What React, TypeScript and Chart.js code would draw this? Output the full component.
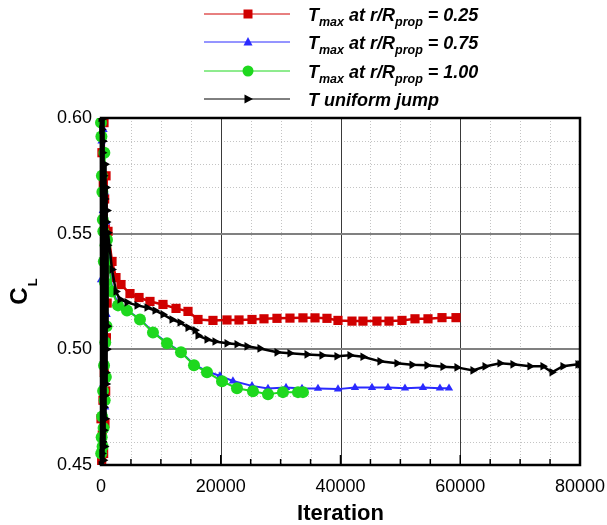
import React, { useEffect, useRef } from 'react';
import { Chart, registerables } from 'chart.js';

Chart.register(...registerables);

const FONT = '"Liberation Sans", Arial, Helvetica, sans-serif';

// Axis ticks
const xTicks = [0, 20000, 40000, 60000, 80000];
const yTicks = [0.45, 0.5, 0.55, 0.6];
const xMinorStep = 5000;
const yMinorStep = 0.01;

// T max at r/Rprop = 0.25
const redIter = [0, 50, 110, 160, 220, 270, 330, 380, 440, 500, 550, 610, 660, 720, 780, 840, 900, 960, 1030,
  1170, 1840, 2500, 3340, 4840, 6350, 8180, 10350, 12530, 14530, 16200, 18700,
  21040, 23050, 25220, 27220, 29390, 31560, 33730, 35740, 37740, 39580,
  41920, 43750, 46090, 48100, 50270, 52440, 54610, 56950, 59290];
const redCL = [0.47, 0.615, 0.452, 0.585, 0.463, 0.605, 0.478, 0.572, 0.455, 0.598, 0.49, 0.565, 0.468, 0.552, 0.482, 0.575, 0.505, 0.548, 0.52,
  0.551, 0.538, 0.531, 0.528, 0.5241, 0.5224, 0.5207, 0.5194, 0.5177, 0.5164, 0.5129, 0.5125,
  0.5127, 0.5127, 0.5129, 0.5132, 0.5134, 0.5135, 0.5136, 0.5136, 0.5134, 0.5125,
  0.5122, 0.5122, 0.5122, 0.5122, 0.5125, 0.5132, 0.5132, 0.5137, 0.5137];

// T max at r/Rprop = 0.75
const blueIter = [0, 45, 95, 150, 200, 255, 310, 365, 420, 470, 530, 585, 640, 700, 760, 820, 880, 950, 1000,
  1840, 2840, 4340, 6510, 8680, 11020, 13360, 15530, 17700,
  19870, 22040, 25220, 27890, 30900, 33570, 36240, 39580,
  42420, 45260, 47930, 50770, 53770, 56610, 58120];
const blueCL = [0.53, 0.455, 0.59, 0.47, 0.575, 0.448, 0.56, 0.485, 0.595, 0.465, 0.545, 0.495, 0.568, 0.475, 0.54, 0.505, 0.555, 0.515, 0.548,
  0.526, 0.5195, 0.517, 0.513, 0.5075, 0.5028, 0.4988, 0.4935, 0.4905,
  0.4885, 0.4863, 0.4842, 0.4831, 0.4835, 0.4831, 0.4831, 0.4828,
  0.4835, 0.4835, 0.4835, 0.4832, 0.4835, 0.4832, 0.4832];

// T max at r/Rprop = 1.00
const greenIter = [0, 35, 70, 110, 150, 190, 230, 270, 310, 350, 390, 430, 470, 510, 560, 610, 660, 710, 760, 810, 860, 920,
  1000, 1840, 2840, 4340, 6510, 8680, 11020, 13360, 15530, 17700,
  20210, 22710, 25380, 27890, 30390, 32900, 33730];
const greenCL = [0.598, 0.455, 0.592, 0.462, 0.575, 0.471, 0.568, 0.458, 0.556, 0.482, 0.551, 0.466, 0.538, 0.493, 0.585, 0.478, 0.529, 0.503, 0.545, 0.488, 0.535, 0.51,
  0.5474, 0.525, 0.519, 0.5168, 0.5129, 0.5073, 0.5026, 0.4987, 0.4931, 0.4901,
  0.4862, 0.4832, 0.4819, 0.4806, 0.4815, 0.4815, 0.4815];

// T uniform jump
const blackIter = [0, 25, 55, 85, 115, 145, 175, 210, 240, 270, 300, 335, 365, 395, 430, 460, 490, 525, 555, 590,
  620, 655, 690, 725, 760, 800, 840, 880, 920, 960, 1000, 1050, 1100,
  1170, 1840, 2500, 3170, 4340, 6010, 7680, 9020, 10350, 11860,
  13190, 14530, 15700, 16200, 17700, 19040, 21040, 22710, 24380, 26550,
  29390, 31560, 34400, 36900, 39410, 41580, 43750, 46590, 49430, 51940,
  54440, 57110, 59450, 62120, 64130, 66630, 68800, 71640, 73810, 75320,
  77150, 79660, 80000];
const blackCL = [0.6, 0.45, 0.62, 0.44, 0.595, 0.455, 0.61, 0.46, 0.585, 0.447, 0.59, 0.47, 0.58, 0.452, 0.575, 0.465, 0.6, 0.475, 0.57, 0.458,
  0.565, 0.48, 0.58, 0.47, 0.56, 0.49, 0.57, 0.485, 0.555, 0.5, 0.56, 0.51, 0.545,
  0.5504, 0.5345, 0.525, 0.5216, 0.5203, 0.519, 0.5181, 0.5168, 0.5151, 0.5129,
  0.5116, 0.5094, 0.5082, 0.506, 0.5043, 0.5034, 0.5026, 0.5022, 0.5013, 0.5004,
  0.4987, 0.4983, 0.4978, 0.4974, 0.497, 0.4974, 0.4968, 0.4948, 0.494, 0.4933,
  0.4931, 0.4925, 0.4922, 0.4909, 0.4926, 0.494, 0.4935, 0.4927, 0.4927, 0.4901,
  0.4927, 0.4935, 0.4935];

const RED = '#d00000';
const BLUE = '#2a2aff';
const GREEN = '#1ed81e';
const BLACK = '#000000';

type Part = [string, boolean];
const legendItems: { color: string; marker: string; parts: Part[] }[] = [
  { color: RED, marker: 'square', parts: [['T', false], ['max', true], [' at r/R', false], ['prop', true], [' = 0.25', false]] },
  { color: BLUE, marker: 'triangle', parts: [['T', false], ['max', true], [' at r/R', false], ['prop', true], [' = 0.75', false]] },
  { color: GREEN, marker: 'circle', parts: [['T', false], ['max', true], [' at r/R', false], ['prop', true], [' = 1.00', false]] },
  { color: BLACK, marker: 'right', parts: [['T uniform jump', false]] },
];

function pts(xs: number[], ys: number[]) {
  return xs.map((x, i) => ({ x, y: ys[i] }));
}

function drawMarker(ctx: CanvasRenderingContext2D, kind: string, x: number, y: number, color: string) {
  ctx.fillStyle = color;
  ctx.beginPath();
  if (kind === 'square') {
    ctx.rect(x - 4.5, y - 4.5, 9, 9);
  } else if (kind === 'triangle') {
    ctx.moveTo(x, y - 5);
    ctx.lineTo(x + 4.5, y + 3.5);
    ctx.lineTo(x - 4.5, y + 3.5);
    ctx.closePath();
  } else if (kind === 'circle') {
    ctx.arc(x, y, 5.5, 0, Math.PI * 2);
  } else {
    ctx.moveTo(x + 5, y);
    ctx.lineTo(x - 3.5, y - 4.5);
    ctx.lineTo(x - 3.5, y + 4.5);
    ctx.closePath();
  }
  ctx.fill();
}

const overlay = {
  id: 'overlay',
  beforeDatasetsDraw(chart: any) {
    const { ctx, chartArea: a, scales } = chart;
    const xs = scales.x, ys = scales.y;
    ctx.save();
    // minor dotted grid
    ctx.strokeStyle = '#c4c4c4';
    ctx.lineWidth = 1;
    ctx.setLineDash([1, 2]);
    for (let i = 1; i < 16; i++) {
      if (i % 4 === 0) continue;
      const px = Math.round(xs.getPixelForValue(i * xMinorStep)) + 0.5;
      ctx.beginPath(); ctx.moveTo(px, a.top); ctx.lineTo(px, a.bottom); ctx.stroke();
    }
    for (let i = 1; i < 15; i++) {
      if (i % 5 === 0) continue;
      const py = Math.round(ys.getPixelForValue(yTicks[0] + i * yMinorStep)) + 0.5;
      ctx.beginPath(); ctx.moveTo(a.left, py); ctx.lineTo(a.right, py); ctx.stroke();
    }
    ctx.setLineDash([]);
    // major grid
    ctx.strokeStyle = '#3a3a3a';
    ctx.lineWidth = 1;
    xTicks.slice(1, -1).forEach((v) => {
      const px = Math.round(xs.getPixelForValue(v)) + 0.5;
      ctx.beginPath(); ctx.moveTo(px, a.top); ctx.lineTo(px, a.bottom); ctx.stroke();
    });
    ctx.strokeStyle = '#808080';
    ctx.lineWidth = 2;
    yTicks.slice(1, -1).forEach((v) => {
      const py = Math.round(ys.getPixelForValue(v));
      ctx.beginPath(); ctx.moveTo(a.left, py); ctx.lineTo(a.right, py); ctx.stroke();
    });
    ctx.restore();
  },
  afterDatasetsDraw(chart: any) {
    const { ctx, chartArea: a, scales } = chart;
    const xs = scales.x, ys = scales.y;
    ctx.save();
    ctx.strokeStyle = '#000';
    // tick marks
    ctx.lineWidth = 1.5;
    for (let i = 0; i <= 16; i++) {
      const px = xs.getPixelForValue(i * xMinorStep);
      const len = i % 4 === 0 ? 10 : 6;
      ctx.beginPath(); ctx.moveTo(px, a.bottom); ctx.lineTo(px, a.bottom - len); ctx.stroke();
    }
    for (let i = 0; i <= 15; i++) {
      const py = ys.getPixelForValue(yTicks[0] + i * yMinorStep);
      const len = i % 5 === 0 ? 10 : 6;
      ctx.beginPath(); ctx.moveTo(a.left, py); ctx.lineTo(a.left + len, py); ctx.stroke();
    }
    // frame
    ctx.lineWidth = 2.5;
    ctx.strokeRect(a.left, a.top, a.right - a.left, a.bottom - a.top);
    ctx.restore();
  },
  afterDraw(chart: any) {
    const { ctx, chartArea: a } = chart;
    ctx.save();
    ctx.fillStyle = '#000';
    // x title
    ctx.font = `bold 22px ${FONT}`;
    ctx.textAlign = 'center';
    ctx.textBaseline = 'alphabetic';
    ctx.fillText('Iteration', (a.left + a.right) / 2, 520);
    // y title C_L
    ctx.save();
    ctx.translate(27, (a.top + a.bottom) / 2);
    ctx.rotate(-Math.PI / 2);
    ctx.textAlign = 'left';
    ctx.font = `bold 24px ${FONT}`;
    const wC = ctx.measureText('C').width;
    ctx.font = `bold 13px ${FONT}`;
    const wL = ctx.measureText('L').width;
    const x0 = -(wC + 1 + wL) / 2;
    ctx.font = `bold 24px ${FONT}`;
    ctx.fillText('C', x0, 0);
    ctx.font = `bold 13px ${FONT}`;
    ctx.fillText('L', x0 + wC + 1, 10);
    ctx.restore();
    // legend
    const rowY = [14, 42, 71, 99];
    legendItems.forEach((it, i) => {
      const y = rowY[i];
      ctx.strokeStyle = it.color;
      ctx.lineWidth = 1;
      ctx.beginPath(); ctx.moveTo(204, y); ctx.lineTo(290, y); ctx.stroke();
      drawMarker(ctx, it.marker, 248, y, it.color);
      let cx = 308;
      ctx.fillStyle = '#000';
      ctx.textAlign = 'left';
      it.parts.forEach(([t, sub]) => {
        ctx.font = `italic bold ${sub ? 12.5 : 18}px ${FONT}`;
        ctx.fillText(t, cx, sub ? y + 11.5 : y + 7);
        cx += ctx.measureText(t).width;
      });
    });
    ctx.restore();
  },
};

export default function App() {
  const ref = useRef<HTMLCanvasElement>(null);
  useEffect(() => {
    document.body.style.margin = '0';
    const clip = { left: 8, top: 0, right: 0, bottom: 0 };
    const chart = new Chart(ref.current as HTMLCanvasElement, {
      type: 'line',
      data: {
        datasets: [
          {
            label: 'T uniform jump', data: pts(blackIter, blackCL), borderColor: BLACK, backgroundColor: BLACK,
            borderWidth: 2.5, pointStyle: 'triangle', pointRotation: 90, pointRadius: 5, pointBorderWidth: 0, clip,
          },
          {
            label: 'Tmax at r/Rprop = 1.00', data: pts(greenIter, greenCL), borderColor: GREEN, backgroundColor: GREEN,
            borderWidth: 2, pointStyle: 'circle', pointRadius: 6, pointBorderWidth: 0, clip,
          },
          {
            label: 'Tmax at r/Rprop = 0.75', data: pts(blueIter, blueCL), borderColor: BLUE, backgroundColor: BLUE,
            borderWidth: 2, pointStyle: 'triangle', pointRadius: 4.8, pointBorderWidth: 0, clip,
          },
          {
            label: 'Tmax at r/Rprop = 0.25', data: pts(redIter, redCL), borderColor: RED, backgroundColor: RED,
            borderWidth: 2.5, pointStyle: 'rect', pointRadius: 6.5, pointBorderWidth: 0, clip,
          },
        ] as any,
      },
      options: {
        animation: false,
        responsive: false,
        devicePixelRatio: 1,
        layout: { padding: { top: 118, right: 27, bottom: 0, left: 0 } },
        elements: { line: { tension: 0 } },
        plugins: { legend: { display: false }, tooltip: { enabled: false } },
        scales: {
          x: {
            type: 'linear', min: 0, max: 80000,
            afterBuildTicks: (s: any) => { s.ticks = xTicks.map((v) => ({ value: v })); },
            afterFit: (s: any) => { s.height = 60; s.paddingLeft = 0; s.paddingRight = 0; },
            grid: { display: false, drawTicks: false },
            border: { display: false },
            ticks: {
              color: '#000', font: { family: FONT, size: 18 }, padding: 11, maxRotation: 0, autoSkip: false,
              callback: (v: any) => String(v),
            },
          },
          y: {
            type: 'linear', min: 0.45, max: 0.6,
            afterBuildTicks: (s: any) => { s.ticks = yTicks.map((v) => ({ value: v })); },
            afterFit: (s: any) => { s.width = 101; s.paddingTop = 0; s.paddingBottom = 0; },
            grid: { display: false, drawTicks: false },
            border: { display: false },
            ticks: {
              color: '#000', font: { family: FONT, size: 18 }, padding: 9, autoSkip: false,
              callback: (v: any) => Number(v).toFixed(2),
            },
          },
        },
      } as any,
      plugins: [overlay],
    });
    return () => chart.destroy();
  }, []);
  return (
    <div style={{ position: 'absolute', left: 0, top: 0, width: 607, height: 525 }}>
      <canvas ref={ref} width={607} height={525} style={{ display: 'block', width: 607, height: 525 }} />
    </div>
  );
}
